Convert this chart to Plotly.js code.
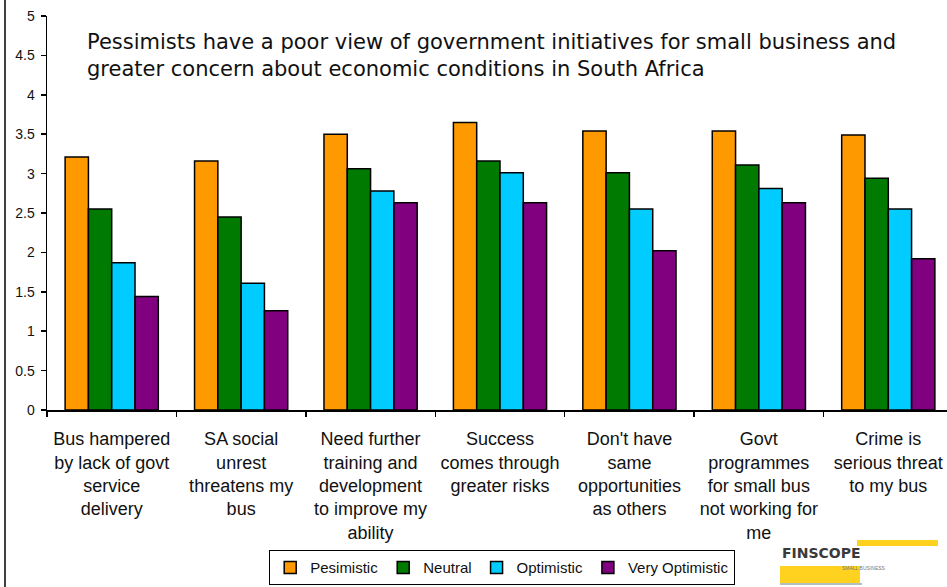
<!DOCTYPE html>
<html>
<head>
<meta charset="utf-8">
<script src="https://cdn.plot.ly/plotly-3.0.1.min.js"></script>
<style>
html, body { margin: 0; padding: 0; overflow: hidden; background: #fff; }
#chart { width: 960px; height: 587px; }
</style>
</head>
<body>
<div id="chart"></div>
<script>
// ---- data ----
const categories = ["Bus hampered by lack of govt service delivery",
  "SA social unrest threatens my bus",
  "Need further training and development to improve my ability",
  "Success comes through greater risks",
  "Don't have same opportunities as others",
  "Govt programmes for small bus not working for me",
  "Crime is serious threat to my bus"];
const tickLabels = ["Bus hampered<br>by lack of govt<br>service<br>delivery",
  "SA social<br>unrest<br>threatens my<br>bus",
  "Need further<br>training and<br>development<br>to improve my<br>ability",
  "Success<br>comes through<br>greater risks",
  "Don't have<br>same<br>opportunities<br>as others",
  "Govt<br>programmes<br>for small bus<br>not working for<br>me",
  "Crime is<br>serious threat<br>to my bus"];
const seriesNames = ["Pesimistic", "Neutral", "Optimistic", "Very Optimistic"];
const pesimistic     = [3.21, 3.16, 3.50, 3.65, 3.54, 3.54, 3.49];
const neutral        = [2.55, 2.45, 3.06, 3.16, 3.01, 3.11, 2.94];
const optimistic     = [1.87, 1.61, 2.78, 3.01, 2.55, 2.81, 2.55];
const veryOptimistic = [1.44, 1.26, 2.63, 2.63, 2.02, 2.63, 1.92];
const yTicks = [0, 0.5, 1, 1.5, 2, 2.5, 3, 3.5, 4, 4.5, 5];
const titleText = "Pessimists have a poor view of government initiatives for small business and<br>greater concern about economic conditions in South Africa";

// ---- layout helpers (pixel -> paper) ----
const W = 960, H = 587, ML = 47, MR = 7, MT = 16, MB = 177;
const PW = W - ML - MR, PH = H - MT - MB;
const xp = px => (px - ML) / PW;
const yp = py => (H - MB - py) / PH;

const colors = ["#FF9900", "#007A00", "#00CCFF", "#800080"];
const values = [pesimistic, neutral, optimistic, veryOptimistic];

const traces = values.map((v, i) => ({
  type: "bar",
  name: seriesNames[i],
  x: categories,
  y: v,
  marker: { color: colors[i], line: { color: "#000", width: 1.5 } },
  hoverinfo: "x+y+name"
}));

const font = "Arial, 'Liberation Sans', sans-serif";

const layout = {
  width: W, height: H,
  margin: { l: ML, r: MR, t: MT, b: MB, pad: 0, autoexpand: false },
  paper_bgcolor: "#fff", plot_bgcolor: "#fff",
  font: { family: font, color: "#111", size: 13 },
  barmode: "group", bargap: 0.28, bargroupgap: 0,
  showlegend: true,
  legend: {
    orientation: "h", xref: "container", yref: "container",
    x: 502 / W, xanchor: "center", y: 1 - 550 / H, yanchor: "top",
    bordercolor: "#000", borderwidth: 1.2, bgcolor: "#fff",
    font: { family: font, size: 15, color: "#111" },
    itemwidth: 30, tracegroupgap: 0
  },
  xaxis: {
    type: "category", categoryorder: "array", categoryarray: categories,
    tickvals: categories, ticktext: tickLabels, automargin: false,
    showline: true, linecolor: "#000", linewidth: 1.5,
    ticks: "outside", tickson: "boundaries", ticklen: 5, tickcolor: "#000", tickwidth: 1.5,
    ticklabelstandoff: 12,
    showgrid: false, zeroline: false, tickangle: 0,
    tickfont: { family: font, size: 18, color: "#111" },
    fixedrange: true
  },
  yaxis: {
    range: [0, 5], tickvals: yTicks, ticktext: yTicks.map(String), automargin: false,
    showline: true, linecolor: "#000", linewidth: 1.5,
    ticks: "outside", ticklen: 5, tickcolor: "#000", tickwidth: 1.5,
    ticklabelstandoff: 3,
    showgrid: false, zeroline: false,
    tickfont: { family: font, size: 14, color: "#111" },
    fixedrange: true
  },
  annotations: [
    { text: titleText, xref: "paper", yref: "paper", x: xp(85), y: yp(28),
      xanchor: "left", yanchor: "top", align: "left", showarrow: false,
      font: { family: "'DejaVu Sans', sans-serif", size: 21, color: "#111" } },
    { text: "<b>FINSCOPE</b>", xref: "paper", yref: "paper", x: xp(780), y: yp(553),
      xanchor: "left", yanchor: "middle", showarrow: false,
      font: { family: "'DejaVu Sans', sans-serif", size: 14, color: "#3a3a3a" } },
    { text: "SMALL BUSINESS", xref: "paper", yref: "paper", x: xp(840), y: yp(568),
      xanchor: "left", yanchor: "middle", showarrow: false,
      font: { family: font, size: 5, color: "#777" } }
  ],
  shapes: [
    { type: "line", xref: "paper", yref: "paper", x0: xp(5), x1: xp(5), y0: yp(0), y1: yp(H),
      line: { color: "#000", width: 1.5 } },
    { type: "rect", xref: "paper", yref: "paper", x0: xp(857), x1: xp(938), y0: yp(540), y1: yp(546),
      fillcolor: "#FFD21F", line: { width: 0 } },
    { type: "rect", xref: "paper", yref: "paper", x0: xp(780), x1: xp(860), y0: yp(566), y1: yp(583),
      fillcolor: "#FFD21F", line: { width: 0 } },
    { type: "line", xref: "paper", yref: "paper", x0: xp(780), x1: xp(862), y0: yp(584), y1: yp(584),
      line: { color: "#9aa", width: 1.5 } }
  ]
};

Plotly.newPlot("chart", traces, layout, { displayModeBar: false, staticPlot: true });
</script>
</body>
</html>
